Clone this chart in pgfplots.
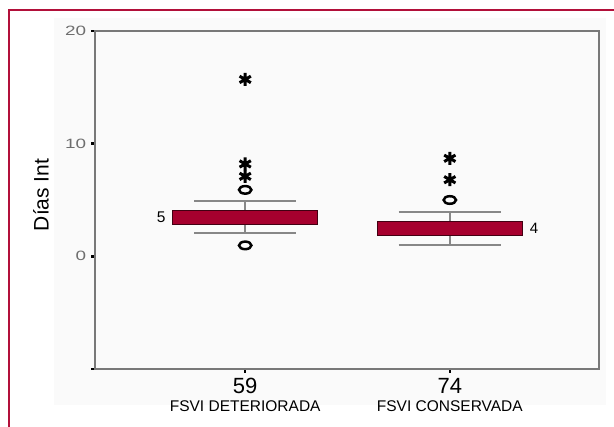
\documentclass[border=0pt]{standalone}
\usepackage{fontspec}
\setmainfont{Liberation Sans}
\usepackage{pgfplots}
\pgfplotsset{compat=1.18}
\usepgfplotslibrary{statistics}
\definecolor{boxred}{RGB}{166,0,46}
\definecolor{framered}{RGB}{178,16,58}
\definecolor{axgray}{RGB}{120,120,120}
\definecolor{wgray}{RGB}{135,135,135}
\definecolor{tgray}{RGB}{110,110,110}
\pgfdeclareplotmark{ello}{\pgfpathellipse{\pgfpointorigin}{\pgfpoint{6.2pt}{0pt}}{\pgfpoint{0pt}{3.8pt}}\pgfusepathqstroke}
\begin{document}
\begin{tikzpicture}[x=1pt,y=1pt]
\path[use as bounding box] (0,0) rectangle (614,427);
\fill[black!2] (54,22) rectangle (606,409);
\draw[framered, line width=2.5pt] (9,0) -- (9,417) -- (614,417);
\begin{axis}[
  at={(95pt,58pt)}, anchor=south west,
  scale only axis, width=504pt, height=338pt,
  xmin=0.266, xmax=2.729, ymin=-10, ymax=20,
  axis line style={axgray, line width=2pt},
  tick pos=left, tick align=outside,
  major tick length=4pt,
  tick style={black, line width=2.5pt},
  ytick={-10,0,10,20}, yticklabels={,0,10,20},
  xtick={1,2},
  xticklabels={{{\fontsize{22}{18}\selectfont 59}\\FSVI DETERIORADA},{{\fontsize{22}{18}\selectfont 74}\\FSVI CONSERVADA}},
  yticklabel style={font=\fontsize{13.5}{14}\selectfont, text=tgray, xscale=1.4},
  xticklabel style={align=center, font=\fontsize{15.5}{18}\selectfont, inner sep=2pt, yshift=-3pt},
  ylabel={Días Int},
  ylabel style={font=\fontsize{21}{21}\selectfont, at={(axis description cs:-0.107,0.515)}, anchor=center},
  clip=false,
  boxplot/draw direction=y,
]
\addplot[boxplot prepared={median=4.05, upper quartile=4.05, lower quartile=2.85, upper whisker=4.95, lower whisker=2.05, draw position=1, box extend=0.71, whisker extend=0.5, draw direction=y},
  boxplot/every box/.style={fill=boxred, draw=black!60!boxred, line width=1.2pt},
  boxplot/every whisker/.style={draw=wgray, line width=2pt},
  boxplot/every median/.style={draw opacity=0}] coordinates {};
\addplot[boxplot prepared={median=3.08, upper quartile=3.08, lower quartile=1.88, upper whisker=3.97, lower whisker=0.97, draw position=2, box extend=0.71, whisker extend=0.5, draw direction=y},
  boxplot/every box/.style={fill=boxred, draw=black!60!boxred, line width=1.2pt},
  boxplot/every whisker/.style={draw=wgray, line width=2pt},
  boxplot/every median/.style={draw opacity=0}] coordinates {};
\addplot[only marks, mark=asterisk, mark size=6.5pt, mark options={line width=3pt, black}] coordinates {(1,15.7) (1,8.2) (1,7.1) (2,8.7) (2,6.8)};
\addplot[only marks, mark=ello, mark options={line width=2.5pt, black}] coordinates {(1,5.9) (1,0.97) (2,5.0)};
\node[font=\fontsize{15.5}{16}\selectfont] at (axis cs:0.589,3.5) {5};
\node[font=\fontsize{15}{16}\selectfont] at (axis cs:2.412,2.44) {4};
\end{axis}
\end{tikzpicture}
\end{document}
